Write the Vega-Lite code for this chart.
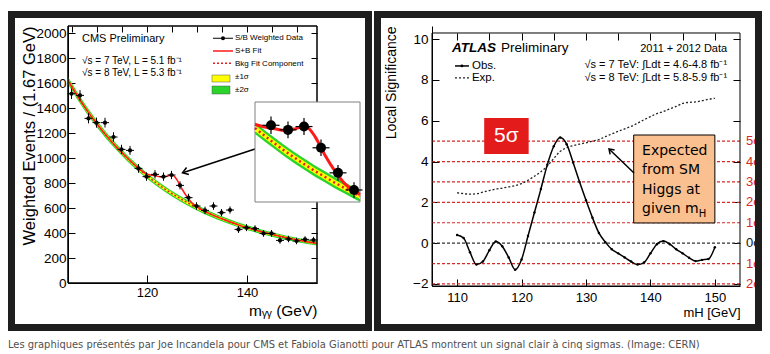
{
"$schema": "https://vega.github.io/schema/vega-lite/v6.json",
"background": "white",
"padding": {"left": 8, "top": 10, "right": 0, "bottom": 0},
"spacing": 0,
"config": {
  "view": {"stroke": null},
  "font": "Liberation Sans",
  "axis": {"labelFont": "Liberation Sans", "titleFont": "Liberation Sans", "labelColor": "black", "titleColor": "black", "domainColor": "black", "tickColor": "black", "grid": false, "titleFontWeight": "normal", "labelOverlap": false},
  "text": {"font": "Liberation Sans", "color": "black"}
},
"title": {"text": "Les graphiques présentés par Joe Incandela pour CMS et Fabiola Gianotti pour ATLAS montrent un signal clair à cinq sigmas. (Image: CERN)", "orient": "bottom", "anchor": "start", "font": "Liberation Sans Narrow, DejaVu Sans Condensed, sans-serif", "fontSize": 11, "fontWeight": "normal", "color": "#505050", "offset": 8},
"datasets": {
  "cms": [
    {"x": 104.9, "y": 1514, "lo": 1472, "hi": 1556}, {"x": 106.6, "y": 1501, "lo": 1459, "hi": 1543},
    {"x": 108.3, "y": 1317, "lo": 1277, "hi": 1357}, {"x": 109.9, "y": 1283, "lo": 1243, "hi": 1323},
    {"x": 111.6, "y": 1283, "lo": 1244, "hi": 1322}, {"x": 113.3, "y": 1168, "lo": 1130, "hi": 1206},
    {"x": 114.9, "y": 1069, "lo": 1032, "hi": 1106}, {"x": 116.6, "y": 1061, "lo": 1025, "hi": 1097},
    {"x": 118.3, "y": 917, "lo": 882, "hi": 952}, {"x": 119.9, "y": 851, "lo": 817, "hi": 885},
    {"x": 121.6, "y": 869, "lo": 835, "hi": 903}, {"x": 123.3, "y": 851, "lo": 818, "hi": 884},
    {"x": 124.9, "y": 864, "lo": 831, "hi": 897}, {"x": 126.6, "y": 781, "lo": 749, "hi": 813},
    {"x": 128.3, "y": 683, "lo": 652, "hi": 714}, {"x": 129.9, "y": 616, "lo": 586, "hi": 646},
    {"x": 131.6, "y": 581, "lo": 551, "hi": 611}, {"x": 133.3, "y": 616, "lo": 586, "hi": 646},
    {"x": 134.9, "y": 563, "lo": 534, "hi": 592}, {"x": 136.6, "y": 584, "lo": 555, "hi": 613},
    {"x": 138.3, "y": 429, "lo": 401, "hi": 457}, {"x": 139.9, "y": 443, "lo": 415, "hi": 471},
    {"x": 141.6, "y": 435, "lo": 408, "hi": 462}, {"x": 143.3, "y": 397, "lo": 370, "hi": 424},
    {"x": 144.9, "y": 397, "lo": 370, "hi": 424}, {"x": 146.6, "y": 341, "lo": 315, "hi": 367},
    {"x": 148.3, "y": 352, "lo": 326, "hi": 378}, {"x": 149.9, "y": 336, "lo": 310, "hi": 362},
    {"x": 151.6, "y": 349, "lo": 324, "hi": 374}, {"x": 153.3, "y": 344, "lo": 319, "hi": 369}
  ],
  "fit": [
    {"x": 104, "b": 1634, "sb": 1634, "lo2": 1604, "lo1": 1619, "hi1": 1649, "hi2": 1664},
    {"x": 106, "b": 1502, "sb": 1502, "lo2": 1473, "lo1": 1487, "hi1": 1517, "hi2": 1531},
    {"x": 108, "b": 1381, "sb": 1381, "lo2": 1353, "lo1": 1367, "hi1": 1395, "hi2": 1409},
    {"x": 110, "b": 1272, "sb": 1272, "lo2": 1245, "lo1": 1258, "hi1": 1286, "hi2": 1299},
    {"x": 112, "b": 1173, "sb": 1173, "lo2": 1147, "lo1": 1160, "hi1": 1186, "hi2": 1199},
    {"x": 114, "b": 1083, "sb": 1083, "lo2": 1058, "lo1": 1070, "hi1": 1096, "hi2": 1108},
    {"x": 116, "b": 1001, "sb": 1002, "lo2": 977, "lo1": 989, "hi1": 1013, "hi2": 1025},
    {"x": 117, "b": 962, "sb": 964, "lo2": 938, "lo1": 950, "hi1": 974, "hi2": 986},
    {"x": 118, "b": 926, "sb": 929, "lo2": 902, "lo1": 914, "hi1": 938, "hi2": 950},
    {"x": 119, "b": 891, "sb": 897, "lo2": 868, "lo1": 879, "hi1": 903, "hi2": 914},
    {"x": 120, "b": 858, "sb": 872, "lo2": 835, "lo1": 846, "hi1": 870, "hi2": 881},
    {"x": 121, "b": 827, "sb": 862, "lo2": 805, "lo1": 816, "hi1": 838, "hi2": 849},
    {"x": 122, "b": 797, "sb": 855, "lo2": 775, "lo1": 786, "hi1": 808, "hi2": 819},
    {"x": 123, "b": 768, "sb": 849, "lo2": 746, "lo1": 757, "hi1": 779, "hi2": 790},
    {"x": 124, "b": 741, "sb": 855, "lo2": 719, "lo1": 730, "hi1": 752, "hi2": 763},
    {"x": 125, "b": 715, "sb": 866, "lo2": 693, "lo1": 704, "hi1": 726, "hi2": 737},
    {"x": 126, "b": 690, "sb": 825, "lo2": 668, "lo1": 679, "hi1": 701, "hi2": 712},
    {"x": 127, "b": 667, "sb": 752, "lo2": 645, "lo1": 656, "hi1": 678, "hi2": 689},
    {"x": 128, "b": 644, "sb": 690, "lo2": 622, "lo1": 633, "hi1": 655, "hi2": 666},
    {"x": 129, "b": 623, "sb": 640, "lo2": 601, "lo1": 612, "hi1": 634, "hi2": 645},
    {"x": 130, "b": 602, "sb": 610, "lo2": 580, "lo1": 591, "hi1": 613, "hi2": 624},
    {"x": 130.5, "b": 592, "sb": 598, "lo2": 570, "lo1": 581, "hi1": 603, "hi2": 614},
    {"x": 131, "b": 583, "sb": 586, "lo2": 561, "lo1": 572, "hi1": 594, "hi2": 605},
    {"x": 132, "b": 564, "sb": 565, "lo2": 543, "lo1": 554, "hi1": 574, "hi2": 585},
    {"x": 134, "b": 529, "sb": 529, "lo2": 509, "lo1": 519, "hi1": 539, "hi2": 549},
    {"x": 136, "b": 498, "sb": 498, "lo2": 478, "lo1": 488, "hi1": 508, "hi2": 518},
    {"x": 138, "b": 469, "sb": 469, "lo2": 450, "lo1": 459, "hi1": 479, "hi2": 488},
    {"x": 140, "b": 443, "sb": 443, "lo2": 424, "lo1": 433, "hi1": 453, "hi2": 462},
    {"x": 142, "b": 420, "sb": 420, "lo2": 401, "lo1": 411, "hi1": 429, "hi2": 439},
    {"x": 144, "b": 398, "sb": 398, "lo2": 380, "lo1": 389, "hi1": 407, "hi2": 416},
    {"x": 146, "b": 379, "sb": 379, "lo2": 361, "lo1": 370, "hi1": 388, "hi2": 397},
    {"x": 148, "b": 361, "sb": 361, "lo2": 343, "lo1": 352, "hi1": 370, "hi2": 379},
    {"x": 150, "b": 345, "sb": 345, "lo2": 328, "lo1": 336, "hi1": 354, "hi2": 362},
    {"x": 152, "b": 330, "sb": 330, "lo2": 313, "lo1": 321, "hi1": 339, "hi2": 347},
    {"x": 154, "b": 317, "sb": 317, "lo2": 300, "lo1": 308, "hi1": 326, "hi2": 334}
  ],
  "atlas": [
    {"x": 110, "obs": 0.40, "exp": 2.47}, {"x": 111, "obs": 0.25, "exp": 2.43}, {"x": 112, "obs": -0.45, "exp": 2.40},
    {"x": 113, "obs": -1.05, "exp": 2.42}, {"x": 114, "obs": -0.90, "exp": 2.50}, {"x": 115, "obs": -0.35, "exp": 2.58},
    {"x": 116, "obs": 0.08, "exp": 2.65}, {"x": 117, "obs": -0.15, "exp": 2.70}, {"x": 118, "obs": -0.70, "exp": 2.76},
    {"x": 119, "obs": -1.30, "exp": 2.82}, {"x": 120, "obs": -0.80, "exp": 2.92}, {"x": 121, "obs": 0.35, "exp": 3.08},
    {"x": 122, "obs": 1.50, "exp": 3.28}, {"x": 123, "obs": 2.65, "exp": 3.50}, {"x": 124, "obs": 3.85, "exp": 3.78},
    {"x": 125, "obs": 4.75, "exp": 4.15}, {"x": 126, "obs": 5.18, "exp": 4.50}, {"x": 127, "obs": 4.85, "exp": 4.68},
    {"x": 128, "obs": 3.95, "exp": 4.78}, {"x": 129, "obs": 3.00, "exp": 4.85}, {"x": 130, "obs": 2.10, "exp": 4.92},
    {"x": 131, "obs": 1.25, "exp": 5.00}, {"x": 132, "obs": 0.50, "exp": 5.08}, {"x": 133, "obs": 0.05, "exp": 5.22},
    {"x": 134, "obs": -0.30, "exp": 5.35}, {"x": 135, "obs": -0.50, "exp": 5.48}, {"x": 136, "obs": -0.70, "exp": 5.60},
    {"x": 137, "obs": -0.90, "exp": 5.72}, {"x": 138, "obs": -1.05, "exp": 5.88}, {"x": 139, "obs": -0.95, "exp": 6.05},
    {"x": 140, "obs": -0.50, "exp": 6.20}, {"x": 141, "obs": -0.05, "exp": 6.35}, {"x": 142, "obs": 0.10, "exp": 6.45},
    {"x": 143, "obs": -0.05, "exp": 6.58}, {"x": 144, "obs": -0.30, "exp": 6.70}, {"x": 145, "obs": -0.50, "exp": 6.85},
    {"x": 146, "obs": -0.72, "exp": 6.90}, {"x": 147, "obs": -0.88, "exp": 6.92}, {"x": 148, "obs": -0.82, "exp": 6.98},
    {"x": 149, "obs": -0.78, "exp": 7.05}, {"x": 150, "obs": -0.20, "exp": 7.10}
  ],
  "sig": [
    {"s": 5, "lab": "5σ"}, {"s": 4, "lab": "4σ"}, {"s": 3, "lab": "3σ"}, {"s": 2, "lab": "2σ"},
    {"s": 1, "lab": "1σ"}, {"s": 0, "lab": "0σ"}, {"s": -1, "lab": "1σ"}, {"s": -2, "lab": "2σ"}
  ]
},
"hconcat": [
  {
    "width": 249, "height": 257,
    "resolve": {"scale": {"x": "independent", "y": "independent"}},
    "layer": [
      {
        "resolve": {"axis": {"x": "independent", "y": "independent"}},
        "layer": [
          {
            "layer": [
              {"data": {"name": "fit"}, "mark": {"type": "area", "color": "#2ad42a", "clip": true},
               "encoding": {
                 "x": {"field": "x", "type": "quantitative", "scale": {"domain": [104.2, 154], "nice": false, "zero": false}, "axis": null},
                 "y": {"field": "lo2", "type": "quantitative", "scale": {"domain": [0, 2056], "nice": false, "zero": false}, "axis": null},
                 "y2": {"field": "hi2"}}},
              {"data": {"name": "fit"}, "mark": {"type": "area", "color": "#ffff00", "clip": true},
               "encoding": {"x": {"field": "x", "type": "quantitative", "axis": null}, "y": {"field": "lo1", "type": "quantitative", "axis": null}, "y2": {"field": "hi1"}}},
              {"data": {"name": "fit"}, "mark": {"type": "line", "color": "#e02020", "strokeWidth": 1.5, "strokeDash": [2, 2], "interpolate": "monotone", "clip": true},
               "encoding": {"x": {"field": "x", "type": "quantitative", "axis": null}, "y": {"field": "b", "type": "quantitative", "axis": null}}},
              {"data": {"name": "fit"}, "mark": {"type": "line", "color": "#ff1a1a", "strokeWidth": 1.5, "interpolate": "monotone", "clip": true},
               "encoding": {"x": {"field": "x", "type": "quantitative", "axis": null}, "y": {"field": "sb", "type": "quantitative", "axis": null}}},
              {"data": {"name": "cms"}, "mark": {"type": "rule", "color": "black", "strokeWidth": 1},
               "encoding": {"x": {"field": "x", "type": "quantitative", "axis": null}, "y": {"field": "lo", "type": "quantitative", "axis": null}, "y2": {"field": "hi"}}},
              {"data": {"name": "cms"}, "mark": {"type": "tick", "orient": "horizontal", "color": "black", "size": 8, "thickness": 1, "opacity": 1},
               "encoding": {"x": {"field": "x", "type": "quantitative", "axis": null}, "y": {"field": "y", "type": "quantitative", "axis": null}}},
              {"data": {"name": "cms"}, "mark": {"type": "circle", "color": "black", "size": 18, "opacity": 1},
               "encoding": {"x": {"field": "x", "type": "quantitative", "axis": null}, "y": {"field": "y", "type": "quantitative", "axis": null}}},
              {"data": {"values": [{}]}, "mark": {"type": "text", "text": "CMS Preliminary", "align": "left", "baseline": "middle", "fontSize": 11},
               "encoding": {"x": {"datum": 107.0, "axis": null}, "y": {"datum": 1952, "axis": null}}},
              {"data": {"values": [{}]}, "mark": {"type": "text", "text": ["√s = 7 TeV, L = 5.1 fb⁻¹", "√s = 8 TeV, L = 5.3 fb⁻¹"], "align": "left", "baseline": "middle", "fontSize": 10, "lineHeight": 12},
               "encoding": {"x": {"datum": 107.0, "axis": null}, "y": {"datum": 1776, "axis": null}}},
              {"data": {"values": [{}]}, "mark": {"type": "text", "text": ["S/B Weighted Data", "S+B Fit", "Bkg Fit Component", "±1σ", "±2σ"], "align": "left", "baseline": "middle", "fontSize": 8, "lineHeight": 13},
               "encoding": {"x": {"datum": 137.6, "axis": null}, "y": {"datum": 1958, "axis": null}}},
              {"data": {"values": [{}]}, "mark": {"type": "rule", "color": "black", "strokeWidth": 1},
               "encoding": {"x": {"datum": 133.2, "axis": null}, "x2": {"datum": 137.2}, "y": {"datum": 1958, "axis": null}}},
              {"data": {"values": [{}]}, "mark": {"type": "circle", "color": "black", "size": 16, "opacity": 1},
               "encoding": {"x": {"datum": 135.2, "axis": null}, "y": {"datum": 1958, "axis": null}}},
              {"data": {"values": [{}]}, "mark": {"type": "rule", "color": "#ff1a1a", "strokeWidth": 1.5},
               "encoding": {"x": {"datum": 133.2, "axis": null}, "x2": {"datum": 137.2}, "y": {"datum": 1856, "axis": null}}},
              {"data": {"values": [{}]}, "mark": {"type": "rule", "color": "#e02020", "strokeWidth": 1.5, "strokeDash": [2, 2]},
               "encoding": {"x": {"datum": 133.2, "axis": null}, "x2": {"datum": 137.2}, "y": {"datum": 1758, "axis": null}}},
              {"data": {"values": [{}]}, "mark": {"type": "rect", "fill": "#ffff00", "stroke": "#555555", "strokeWidth": 0.5},
               "encoding": {"x": {"datum": 133.0, "axis": null}, "x2": {"datum": 136.6}, "y": {"datum": 1608, "axis": null}, "y2": {"datum": 1664}}},
              {"data": {"values": [{}]}, "mark": {"type": "rect", "fill": "#2ad42a", "stroke": "#555555", "strokeWidth": 0.5},
               "encoding": {"x": {"datum": 133.0, "axis": null}, "x2": {"datum": 136.6}, "y": {"datum": 1512, "axis": null}, "y2": {"datum": 1576}}},
              {"data": {"values": [{}]}, "mark": {"type": "rule", "color": "black", "strokeWidth": 1.5},
               "encoding": {"x": {"datum": 141.6, "axis": null}, "x2": {"datum": 127.3}, "y": {"datum": 1072, "axis": null}, "y2": {"datum": 884}}},
              {"data": {"values": [{}]}, "mark": {"type": "point", "shape": "M-0.6,0.9L0,0L0.6,0.9", "filled": false, "color": "black", "strokeWidth": 1.5, "size": 150, "angle": 251.6, "opacity": 1},
               "encoding": {"x": {"datum": 127.1, "axis": null}, "y": {"datum": 882, "axis": null}}},
              {"data": {"values": [{}]}, "mark": {"type": "rect", "filled": false, "stroke": "#1e1e1e", "strokeWidth": 7},
               "encoding": {"x": {"datum": 92.9, "axis": null}, "x2": {"datum": 164.3}, "y": {"datum": -356, "axis": null}, "y2": {"datum": 2148}}}
            ]
          },
          {"data": {"values": [{}]}, "mark": {"type": "rect", "filled": false, "stroke": "black", "strokeWidth": 1},
           "encoding": {
             "x": {"datum": 104.2, "type": "quantitative", "scale": {"domain": [104.2, 154], "nice": false, "zero": false},
                   "axis": {"orient": "bottom", "values": [120, 140], "format": "d", "title": "mᵧᵧ (GeV)", "titleAnchor": "end", "titleFontSize": 15.5, "titlePadding": 4, "labelFontSize": 13, "tickSize": -8, "labelPadding": 11.5, "labelOverlap": false, "labelFlush": false, "labelBound": false}},
             "x2": {"datum": 154},
             "y": {"datum": 0, "type": "quantitative", "scale": {"domain": [0, 2056], "nice": false, "zero": false},
                   "axis": {"orient": "left", "values": [0, 200, 400, 600, 800, 1000, 1200, 1400, 1600, 1800, 2000], "format": "d", "title": "Weighted Events / (1.67 GeV)", "titleAnchor": "end", "titleFontSize": 16.5, "titlePadding": -2, "labelFontSize": 13.5, "tickSize": -7, "labelPadding": 9, "labelOverlap": false, "labelFlush": false, "labelBound": false}},
             "y2": {"datum": 2056}}},
          {"data": {"values": [{}]}, "mark": {"type": "rect", "filled": false, "stroke": "black", "strokeWidth": 1},
           "encoding": {
             "x": {"datum": 104.2, "type": "quantitative", "scale": {"domain": [104.2, 154], "nice": false, "zero": false},
                   "axis": {"orient": "top", "values": [105, 110, 115, 120, 125, 130, 135, 140, 145, 150], "labels": false, "domain": false, "tickSize": -6, "title": null}},
             "x2": {"datum": 154},
             "y": {"datum": 0, "type": "quantitative", "scale": {"domain": [0, 2056], "nice": false, "zero": false},
                   "axis": {"orient": "right", "values": [0, 200, 400, 600, 800, 1000, 1200, 1400, 1600, 1800, 2000], "labels": false, "domain": false, "tickSize": -6, "title": null}},
             "y2": {"datum": 2056}}}
        ]
      },
      {
        "layer": [
          {"data": {"values": [{}]}, "mark": {"type": "rect", "fill": "white", "stroke": "#808080", "strokeWidth": 1},
           "encoding": {
             "x": {"datum": 120, "type": "quantitative", "scale": {"domain": [120, 130.5], "range": [187, 292], "nice": false, "zero": false}, "axis": null},
             "x2": {"datum": 130.5},
             "y": {"datum": 569, "type": "quantitative", "scale": {"domain": [569, 960], "range": [176, 76], "nice": false, "zero": false}, "axis": null},
             "y2": {"datum": 960}}},
          {"data": {"name": "fit"}, "transform": [{"filter": "datum.x >= 120 && datum.x <= 130.5"}], "mark": {"type": "area", "color": "#2ad42a"},
           "encoding": {
             "x": {"field": "x", "type": "quantitative", "scale": {"domain": [120, 130.5], "range": [187, 292], "nice": false, "zero": false}, "axis": null},
             "y": {"field": "lo2", "type": "quantitative", "scale": {"domain": [569, 960], "range": [176, 76], "nice": false, "zero": false}, "axis": null},
             "y2": {"field": "hi2"}}},
          {"data": {"name": "fit"}, "transform": [{"filter": "datum.x >= 120 && datum.x <= 130.5"}], "mark": {"type": "area", "color": "#ffff00"},
           "encoding": {
             "x": {"field": "x", "type": "quantitative", "axis": null},
             "y": {"field": "lo1", "type": "quantitative", "axis": null},
             "y2": {"field": "hi1"}}},
          {"data": {"name": "fit"}, "transform": [{"filter": "datum.x >= 120 && datum.x <= 130.5"}], "mark": {"type": "line", "color": "#e02020", "strokeWidth": 2.5, "strokeDash": [2, 3], "interpolate": "monotone"},
           "encoding": {"x": {"field": "x", "type": "quantitative", "axis": null}, "y": {"field": "b", "type": "quantitative", "axis": null}}},
          {"data": {"name": "fit"}, "transform": [{"filter": "datum.x >= 120 && datum.x <= 130.5"}], "mark": {"type": "line", "color": "#ff1a1a", "strokeWidth": 3, "interpolate": "monotone"},
           "encoding": {"x": {"field": "x", "type": "quantitative", "axis": null}, "y": {"field": "sb", "type": "quantitative", "axis": null}}},
          {"data": {"name": "cms"}, "transform": [{"filter": "datum.x >= 120 && datum.x <= 130.5"}], "mark": {"type": "rule", "color": "black", "strokeWidth": 1.2},
           "encoding": {"x": {"field": "x", "type": "quantitative", "axis": null}, "y": {"field": "lo", "type": "quantitative", "axis": null}, "y2": {"field": "hi"}}},
          {"data": {"name": "cms"}, "transform": [{"filter": "datum.x >= 120 && datum.x <= 130.5"}], "mark": {"type": "tick", "orient": "horizontal", "color": "black", "size": 17, "thickness": 1.2, "opacity": 1},
           "encoding": {"x": {"field": "x", "type": "quantitative", "axis": null}, "y": {"field": "y", "type": "quantitative", "axis": null}}},
          {"data": {"name": "cms"}, "transform": [{"filter": "datum.x >= 120 && datum.x <= 130.5"}], "mark": {"type": "circle", "color": "black", "size": 100, "opacity": 1},
           "encoding": {"x": {"field": "x", "type": "quantitative", "axis": null}, "y": {"field": "y", "type": "quantitative", "axis": null}}}
        ]
      }
    ]
  },
  {
    "width": 308, "height": 260,
    "resolve": {"axis": {"x": "independent", "y": "independent"}},
    "layer": [
      {
        "layer": [
          {"data": {"name": "sig"}, "mark": {"type": "rule", "strokeDash": [3, 2], "strokeWidth": 1.2},
           "encoding": {
             "y": {"field": "s", "type": "quantitative", "scale": {"domain": [-2.1, 10.643], "nice": false, "zero": false}},
             "color": {"condition": {"test": "datum.s === 0", "value": "#333333"}, "value": "#d42a2a"}}},
          {"data": {"name": "atlas"}, "mark": {"type": "line", "color": "#222222", "strokeWidth": 1.3, "strokeDash": [2, 2], "interpolate": "monotone"},
           "encoding": {
             "x": {"field": "x", "type": "quantitative", "scale": {"domain": [106.1, 153.9], "nice": false, "zero": false}},
             "y": {"field": "exp", "type": "quantitative"}}},
          {"data": {"name": "atlas"}, "mark": {"type": "line", "color": "black", "strokeWidth": 1.5, "interpolate": "monotone"},
           "encoding": {
             "x": {"field": "x", "type": "quantitative",
                   "axis": {"orient": "bottom", "values": [110, 115, 120, 125, 130, 135, 140, 145, 150], "title": "mH [GeV]", "titleAnchor": "end", "titleFontSize": 13, "titlePadding": 2, "labelFontSize": 13, "tickSize": -7, "labelPadding": 12, "labelOverlap": false, "labelFlush": false, "labelBound": false}},
             "y": {"field": "obs", "type": "quantitative",
                   "axis": {"orient": "left", "values": [-2, 0, 2, 4, 6, 8, 10], "title": "Local Significance", "titleAnchor": "end", "titleFontSize": 14, "titlePadding": 14, "labelFontSize": 13.5, "tickSize": -7, "labelPadding": 11, "labelOverlap": false, "labelFlush": false, "labelBound": false}}}},
          {"data": {"name": "atlas"}, "mark": {"type": "circle", "color": "black", "size": 6, "opacity": 1},
           "encoding": {"x": {"field": "x", "type": "quantitative"}, "y": {"field": "obs", "type": "quantitative"}}},
          {"data": {"name": "sig"}, "mark": {"type": "text", "align": "left", "baseline": "middle", "fontSize": 13},
           "encoding": {
             "x": {"datum": 154.83}, "y": {"field": "s", "type": "quantitative"}, "text": {"field": "lab"},
             "color": {"condition": {"test": "datum.s === 0", "value": "#111111"}, "value": "#d42a2a"}}},
          {"data": {"values": [{}]}, "mark": {"type": "rect", "fill": "#e31b1b"},
           "encoding": {"x": {"datum": 114.2}, "x2": {"datum": 121.1}, "y": {"datum": 4.37}, "y2": {"datum": 6.14}}},
          {"data": {"values": [{}]}, "mark": {"type": "text", "text": "5σ", "align": "center", "baseline": "middle", "fontSize": 21, "color": "white"},
           "encoding": {"x": {"datum": 117.65}, "y": {"datum": 5.25}}},
          {"data": {"values": [{}]}, "mark": {"type": "rect", "fill": "#fac08f", "stroke": "black", "strokeWidth": 1},
           "encoding": {"x": {"datum": 137.4}, "x2": {"datum": 150.0}, "y": {"datum": 0.99}, "y2": {"datum": 5.30}}},
          {"data": {"values": [{}]}, "mark": {"type": "text", "text": ["Expected", "from SM", "Higgs at", "given m"], "align": "left", "baseline": "middle", "fontSize": 14, "lineHeight": 19.5, "font": "DejaVu Sans"},
           "encoding": {"x": {"datum": 138.7}, "y": {"datum": 4.52}}},
          {"data": {"values": [{}]}, "mark": {"type": "text", "text": "H", "align": "left", "baseline": "middle", "fontSize": 10, "font": "DejaVu Sans"},
           "encoding": {"x": {"datum": 147.5}, "y": {"datum": 1.43}}},
          {"data": {"values": [{}]}, "mark": {"type": "rule", "color": "black", "strokeWidth": 1.5},
           "encoding": {"x": {"datum": 137.45}, "x2": {"datum": 133.7}, "y": {"datum": 3.44}, "y2": {"datum": 4.58}}},
          {"data": {"values": [{}]}, "mark": {"type": "point", "shape": "M-0.6,0.9L0,0L0.6,0.9", "filled": false, "color": "black", "strokeWidth": 1.5, "size": 110, "angle": 315, "opacity": 1},
           "encoding": {"x": {"datum": 133.57}, "y": {"datum": 4.62}}},
          {"data": {"values": [{}]}, "mark": {"type": "text", "text": "ATLAS", "align": "left", "baseline": "middle", "fontSize": 13.5, "fontWeight": "bold", "fontStyle": "italic"},
           "encoding": {"x": {"datum": 109.2}, "y": {"datum": 9.57}}},
          {"data": {"values": [{}]}, "mark": {"type": "text", "text": "Preliminary", "align": "left", "baseline": "middle", "fontSize": 13.5},
           "encoding": {"x": {"datum": 116.8}, "y": {"datum": 9.57}}},
          {"data": {"values": [{}]}, "mark": {"type": "text", "text": "2011 + 2012 Data", "align": "right", "baseline": "middle", "fontSize": 11},
           "encoding": {"x": {"datum": 151.9}, "y": {"datum": 9.52}}},
          {"data": {"values": [{}]}, "mark": {"type": "text", "text": ["√s = 7 TeV: ∫Ldt = 4.6-4.8 fb⁻¹", "√s = 8 TeV: ∫Ldt = 5.8-5.9 fb⁻¹"], "align": "right", "baseline": "middle", "fontSize": 11, "lineHeight": 13},
           "encoding": {"x": {"datum": 151.9}, "y": {"datum": 8.73}}},
          {"data": {"values": [{}]}, "mark": {"type": "text", "text": ["Obs.", "Exp."], "align": "left", "baseline": "middle", "fontSize": 11.5, "lineHeight": 12},
           "encoding": {"x": {"datum": 112.3}, "y": {"datum": 8.685}}},
          {"data": {"values": [{}]}, "mark": {"type": "rule", "color": "black", "strokeWidth": 1.5},
           "encoding": {"x": {"datum": 109.67}, "x2": {"datum": 111.84}, "y": {"datum": 8.685}}},
          {"data": {"values": [{}]}, "mark": {"type": "circle", "color": "black", "size": 8, "opacity": 1},
           "encoding": {"x": {"datum": 110.75}, "y": {"datum": 8.685}}},
          {"data": {"values": [{}]}, "mark": {"type": "rule", "color": "#222222", "strokeWidth": 1.3, "strokeDash": [2, 2]},
           "encoding": {"x": {"datum": 109.67}, "x2": {"datum": 111.84}, "y": {"datum": 8.10}}},
          {"data": {"values": [{}]}, "mark": {"type": "rect", "filled": false, "stroke": "#1e1e1e", "strokeWidth": 7},
           "encoding": {"x": {"datum": 97.64}, "x2": {"datum": 156.77}, "y": {"datum": -4.134}, "y2": {"datum": 11.207}}}
        ]
      },
      {"data": {"values": [{}]}, "mark": {"type": "rect", "filled": false, "stroke": "black", "strokeWidth": 1},
       "encoding": {
         "x": {"datum": 106.1, "type": "quantitative", "scale": {"domain": [106.1, 153.9], "nice": false, "zero": false},
               "axis": {"orient": "top", "offset": -7, "values": [110, 115, 120, 125, 130, 135, 140, 145, 150], "labels": false, "domain": false, "tickSize": -7, "title": null}},
         "x2": {"datum": 153.9},
         "y": {"datum": -2.1, "type": "quantitative", "scale": {"domain": [-2.1, 10.643], "nice": false, "zero": false},
               "axis": {"orient": "right", "values": [-2, 0, 2, 4, 6, 8, 10], "labels": false, "domain": false, "tickSize": -7, "title": null}},
         "y2": {"datum": 10.3}}}
    ]
  }
]
}
